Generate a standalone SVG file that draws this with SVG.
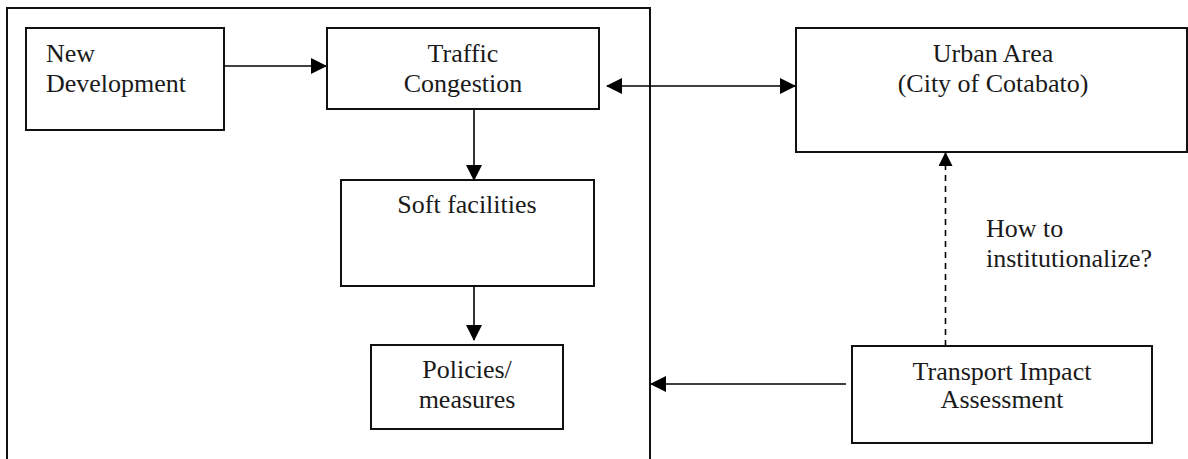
<svg xmlns="http://www.w3.org/2000/svg" width="1188" height="459" viewBox="0 0 1188 459">
<style>
.box{fill:#fff;stroke:#111;stroke-width:2}
.frame{fill:none;stroke:#111;stroke-width:2}
.t{font-family:"Liberation Serif","Times New Roman",serif;font-size:26px;fill:#1a1a1a}
.c{text-anchor:middle}
.ln{fill:none;stroke:#000;stroke-width:1.6}
.dash{stroke-dasharray:6 5}
</style>
<defs>
<marker id="ah" markerUnits="userSpaceOnUse" markerWidth="16" markerHeight="16" viewBox="0 0 16 16" refX="15" refY="8" orient="auto-start-reverse">
<path d="M0,0 L16,8 L0,16 Z" fill="#000"/>
</marker>
<marker id="ahs" markerUnits="userSpaceOnUse" markerWidth="14" markerHeight="14" viewBox="0 0 14 14" refX="13" refY="7" orient="auto">
<path d="M0,0 L14,7 L0,14 Z" fill="#000"/>
</marker>
</defs>
<rect width="1188" height="459" fill="#fff"/>
<g id="frame">
<path class="frame" d="M7,470 V8 H650 V470"/>
</g>
<g id="new-development">
<rect class="box" x="26" y="28" width="198" height="102"/>
<text class="t" x="46" y="62">New</text>
<text class="t" x="46" y="92">Development</text>
</g>
<g id="traffic-congestion">
<rect class="box" x="327" y="28" width="272" height="81"/>
<text class="t c" x="463" y="62">Traffic</text>
<text class="t c" x="463" y="92">Congestion</text>
</g>
<g id="urban-area">
<rect class="box" x="796" y="28" width="391" height="124"/>
<text class="t c" x="993" y="62">Urban Area</text>
<text class="t c" x="993" y="92">(City of Cotabato)</text>
</g>
<g id="soft-facilities">
<rect class="box" x="341" y="180" width="253" height="106"/>
<text class="t c" x="467" y="213">Soft facilities</text>
</g>
<g id="policies-measures">
<rect class="box" x="371" y="345" width="192" height="84"/>
<text class="t c" x="467" y="378">Policies/</text>
<text class="t c" x="467" y="408">measures</text>
</g>
<g id="transport-impact-assessment">
<rect class="box" x="852" y="346" width="300" height="97"/>
<text class="t c" x="1002" y="380">Transport Impact</text>
<text class="t c" x="1002" y="408">Assessment</text>
</g>
<g id="label-institutionalize">
<text class="t" x="986" y="237">How to</text>
<text class="t" x="986" y="267">institutionalize?</text>
</g>
<g id="connectors">
<line class="ln" x1="224" y1="66" x2="326" y2="66" marker-end="url(#ah)"/>
<line class="ln" x1="607" y1="86" x2="795" y2="86" marker-start="url(#ah)" marker-end="url(#ah)"/>
<line class="ln" x1="474" y1="109" x2="474" y2="180" marker-end="url(#ah)"/>
<line class="ln" x1="474" y1="286" x2="474" y2="340" marker-end="url(#ah)"/>
<line class="ln" x1="846" y1="384" x2="651" y2="384" marker-end="url(#ah)"/>
<line class="ln dash" x1="945.5" y1="346" x2="945.5" y2="153" marker-end="url(#ahs)"/>
</g>
</svg>
